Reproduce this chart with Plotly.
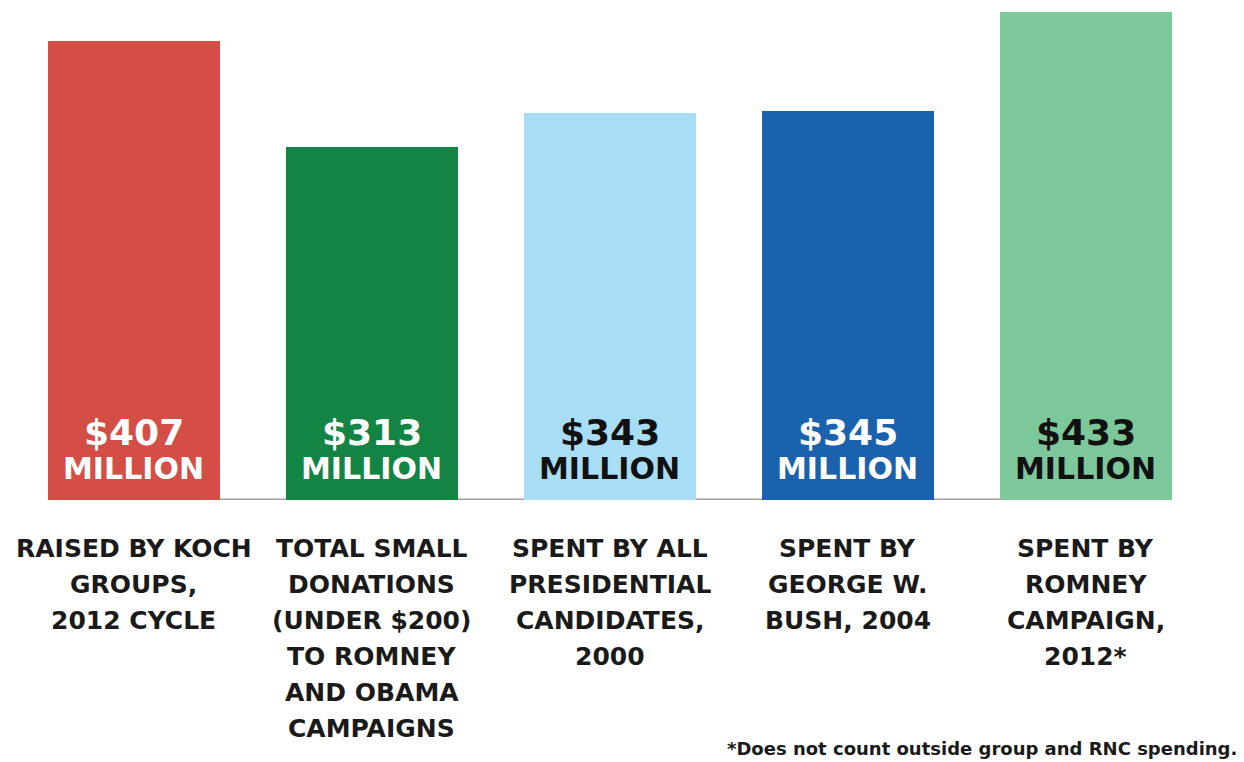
import plotly.graph_objects as go

categories = ["koch", "small", "all2000", "bush2004", "romney2012"]
values = [407, 313, 343, 345, 433]
value_labels = ["$407", "$313", "$343", "$345", "$433"]
category_labels = [
    ["RAISED BY KOCH", "GROUPS,", "2012 CYCLE"],
    ["TOTAL SMALL", "DONATIONS", "(UNDER $200)", "TO ROMNEY", "AND OBAMA", "CAMPAIGNS"],
    ["SPENT BY ALL", "PRESIDENTIAL", "CANDIDATES,", "2000"],
    ["SPENT BY", "GEORGE W.", "BUSH, 2004"],
    ["SPENT BY", "ROMNEY", "CAMPAIGN,", "2012*"],
]
colors = ["#D44E45", "#138443", "#A7DDF5", "#1A62AE", "#7DC89A"]
text_colors = ["white", "white", "#111111", "white", "#111111"]
footnote = "*Does not count outside group and RNC spending."

FONT = "DejaVu Sans"

fig = go.Figure()
fig.add_trace(go.Bar(
    x=categories, y=values, marker=dict(color=colors, line=dict(width=0)),
    width=0.723, hoverinfo="skip", showlegend=False,
))

# baseline
fig.add_shape(type="line", xref="x", yref="y", x0=-0.36, x1=3.9, y0=0, y1=0,
              line=dict(color="#A0A0A0", width=3), layer="below")

for i, cat in enumerate(categories):
    fig.add_annotation(x=cat, y=0, xref="x", yref="y", yanchor="middle",
                       yshift=68, showarrow=False, text=value_labels[i],
                       font=dict(family=FONT, size=36, color=text_colors[i], weight="bold"))
    fig.add_annotation(x=cat, y=0, xref="x", yref="y", yanchor="middle",
                       yshift=32, showarrow=False, text="MILLION",
                       font=dict(family=FONT, size=30, color=text_colors[i], weight="bold"))
    for j, line in enumerate(category_labels[i]):
        fig.add_annotation(x=cat, y=0, xref="x", yref="y", yanchor="middle",
                           yshift=-48 - 36 * j, showarrow=False, text=line,
                           font=dict(family=FONT, size=25, color="#1a1a1a", weight="bold"))

fig.add_annotation(xref="paper", yref="paper", x=1.0, y=-(748 - 500) / 500, xshift=-5,
                   showarrow=False, text=footnote, xanchor="right", yanchor="middle",
                   font=dict(family=FONT, size=18, color="#1a1a1a", weight="bold"))

fig.update_layout(
    width=1244, height=762,
    margin=dict(l=0, r=0, t=0, b=262, pad=0),
    paper_bgcolor="white", plot_bgcolor="white",
    xaxis=dict(range=[-0.563, 4.664], showticklabels=False, showgrid=False,
               zeroline=False, showline=False, ticks=""),
    yaxis=dict(range=[0, 443.3], showticklabels=False, showgrid=False,
               zeroline=False, showline=False, ticks=""),
    bargap=0,
)

fig.write_html("out.html")
